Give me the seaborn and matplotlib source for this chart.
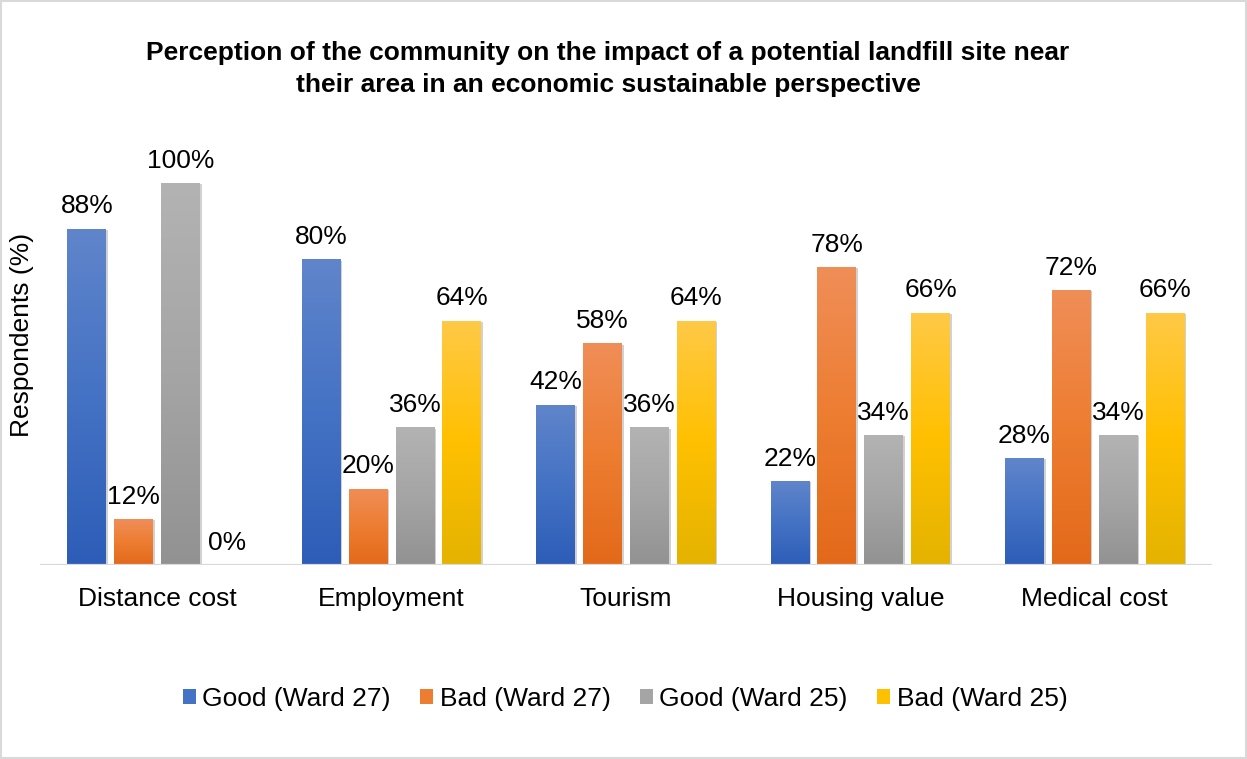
import numpy as np
import pandas as pd
import matplotlib
matplotlib.use("Agg")
import matplotlib.pyplot as plt
import matplotlib.patheffects as pe
from matplotlib.colors import to_rgb
from matplotlib.patches import Rectangle
import seaborn as sns

# ---- data -------------------------------------------------------------
aspects = ["Distance cost", "Employment", "Tourism", "Housing value", "Medical cost"]
groups = ["Good (Ward 27)", "Bad (Ward 27)", "Good (Ward 25)", "Bad (Ward 25)"]
good_w27 = [88, 80, 42, 22, 28]
bad_w27 = [12, 20, 58, 78, 72]
good_w25 = [100, 36, 36, 34, 34]
bad_w25 = [0, 64, 64, 66, 66]

title = ("Perception of the community on the impact of a potential landfill site near\n"
         "their area in an economic sustainable perspective")
y_label = "Respondents (%)"

# base colour and (top, bottom) gradient stops per series
base_colors = ["#4472C4", "#ED7D31", "#A5A5A5", "#FFC000"]
grad_top = ["#6085CB", "#F08E58", "#B3B3B3", "#FFC947"]
grad_bottom = ["#2D5DB8", "#E3691A", "#929292", "#E4B300"]

series = [good_w27, bad_w27, good_w25, bad_w25]
df = pd.DataFrame({
    "aspect": [a for _ in groups for a in aspects],
    "group": [g for g in groups for _ in aspects],
    "pct": [v for s in series for v in s],
})

# ---- figure -----------------------------------------------------------
sns.set_style("white")
plt.rcParams["font.family"] = ["Liberation Sans", "DejaVu Sans"]
plt.rcParams["text.color"] = "#000000"
FS = 19

fig = plt.figure(figsize=(12.47, 7.59), dpi=100)
ax = fig.add_axes([0.0321, 0.2556, 0.9398, 0.5536])

sns.barplot(data=df, x="aspect", y="pct", hue="group", order=aspects,
            hue_order=groups, palette=base_colors, saturation=1,
            width=0.8, gap=0.17, errorbar=None, ax=ax, zorder=2,
            linewidth=0)

ax.set_ylim(0, 110)
xlim = ax.get_xlim()


def gradient_rgb(top, mid, bottom, n=256):
    t = np.linspace(0, 1, n)[:, None]
    top, mid, bottom = (np.array(to_rgb(c)) for c in (top, mid, bottom))
    lower = bottom + (mid - bottom) * (t / 0.5)
    upper = mid + (top - mid) * ((t - 0.5) / 0.5)
    rgb = np.where(t < 0.5, lower, upper)
    return rgb[:, None, :]


shadow = [pe.SimplePatchShadow(offset=(1.2, -0.8), shadow_rgbFace="#000000", alpha=0.18),
          pe.Normal()]

for k, container in enumerate(ax.containers):
    img = gradient_rgb(grad_top[k], base_colors[k], grad_bottom[k])
    for bar, val in zip(container, series[k]):
        bar.set_linewidth(0)
        bar.set_path_effects(shadow)
        x0, w, h = bar.get_x(), bar.get_width(), bar.get_height()
        if h > 0:
            im = ax.imshow(img, extent=[x0, x0 + w, 0, h], origin="lower",
                           aspect="auto", zorder=3, interpolation="bicubic")
            im.set_clip_path(bar)
        ax.annotate(f"{val}%", (x0 + w / 2, val), xytext=(0, 7.5),
                    textcoords="offset points", ha="center", va="bottom",
                    fontsize=FS, color="#000000", zorder=4)

ax.set_xlim(xlim)
ax.set_ylim(0, 110)

# axes styling
for s in ax.spines.values():
    s.set_visible(False)
ax.axhline(0, color="#D9D9D9", lw=1.6, zorder=5)
ax.set_yticks([])
ax.set_xlabel("")
ax.set_ylabel("")
ax.tick_params(axis="x", length=0, pad=16, labelsize=FS, labelcolor="#000000")

# legend below the plot
handles, labels = ax.get_legend_handles_labels()
ax.get_legend().remove()
fig.legend(handles, labels, loc="center", bbox_to_anchor=(625 / 1247, 1 - 699 / 759),
           ncol=4, frameon=False, fontsize=FS, handlelength=0.5, handleheight=0.5,
           handletextpad=0.25, columnspacing=1.1, borderaxespad=0,
           labelcolor="#000000")

# title and y-axis label
fig.text(608 / 1247, 1 - 69 / 759, title, ha="center", va="center",
         multialignment="center", fontsize=FS, fontweight="bold", linespacing=1.45,
         color="#000000")
fig.text(22 / 1247, 1 - 335 / 759, y_label, rotation=90, ha="center", va="center",
         fontsize=FS, color="#000000")

# chart frame
fig.patches.append(Rectangle((0.001, 0.001), 0.998, 0.998, transform=fig.transFigure,
                             fill=False, edgecolor="#D9D9D9", lw=1.5))

fig.savefig("out.png", dpi=100, facecolor="white")
